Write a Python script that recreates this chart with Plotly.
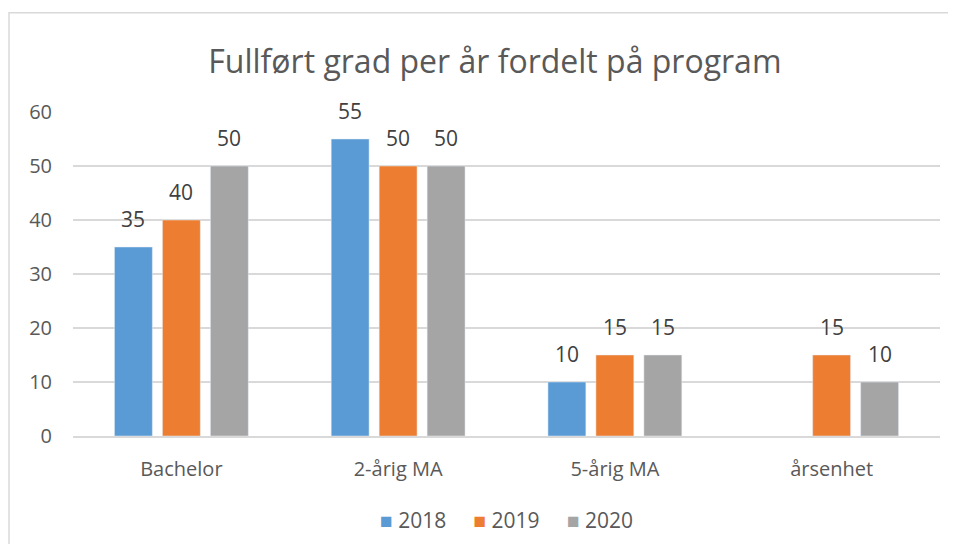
import plotly.graph_objects as go

categories = ["Bachelor", "2-årig MA", "5-årig MA", "årsenhet"]
years = ["2018", "2019", "2020"]
values_2018 = [35, 55, 10, None]
values_2019 = [40, 50, 15, 15]
values_2020 = [50, 50, 15, 10]
colors = ["#5B9BD5", "#ED7D31", "#A5A5A5"]

font_family = "Open Sans, Noto Sans, sans-serif"
series = [values_2018, values_2019, values_2020]

fig = go.Figure()
for name, vals, col in zip(years, series, colors):
    fig.add_trace(go.Bar(x=categories, y=vals, name=name, marker_color=col))

# data labels a bit above the bars, as in Excel
annotations = []
for i, vals in enumerate(series):
    for cat, v in zip(categories, vals):
        if v is None:
            continue
        annotations.append(dict(
            x=cat, y=v, text=str(v), showarrow=False,
            xshift=(i - 1) * 48, yshift=12, yanchor="bottom",
            font=dict(size=21, color="#404040", family=font_family)))

# compact legend like Excel's: small square close to the label
legend_text = "     ".join(
    f'<span style="color:{c}">■</span> {y}' for y, c in zip(years, colors))
annotations.append(dict(
    x=0.5, y=-0.26, xref="paper", yref="paper", text=legend_text,
    showarrow=False, xanchor="center", yanchor="middle",
    font=dict(size=21, color="#595959", family=font_family)))

# the page puts the figure 8px in from the top-left corner
fig.update_layout(
    width=940, height=536,
    margin=dict(l=65, r=8, t=104, b=108),
    paper_bgcolor="white", plot_bgcolor="white",
    font=dict(family=font_family, color="#595959"),
    title=dict(text="Fullført grad per år fordelt på program", x=0.518, y=0.9,
               xanchor="center", yanchor="middle",
               font=dict(size=32, color="#595959", family=font_family)),
    barmode="group", bargap=0.336, bargroupgap=0.21,
    showlegend=False,
    annotations=annotations,
    xaxis=dict(tickfont=dict(size=20, color="#595959"), showline=True,
               linecolor="#d9d9d9", linewidth=1.5, ticks="", ticklabelstandoff=14),
    yaxis=dict(range=[0, 60], dtick=10, tickfont=dict(size=20, color="#595959"),
               gridcolor="#d9d9d9", gridwidth=1.5, zeroline=False,
               ticklabelstandoff=20),
    shapes=[dict(type="rect", xref="paper", yref="paper",
                 x0=-0.0738, x1=1.05, y0=-0.4, y1=1.306,
                 line=dict(color="#d9d9d9", width=1.5), layer="below")],
)

fig.write_html("out.html")
